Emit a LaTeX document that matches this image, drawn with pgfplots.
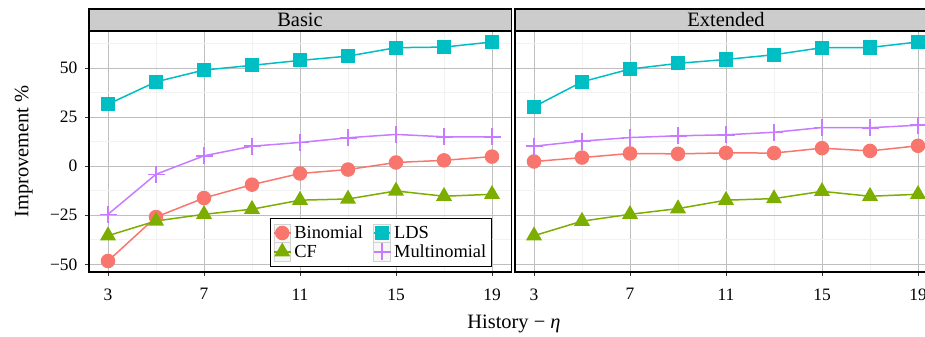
\documentclass[border=0pt]{standalone}
\usepackage{fontspec}
\setmainfont{Liberation Serif}
\usepackage{pgfplots}
\usepackage{pgfplotstable}
\pgfplotsset{compat=1.18}
\definecolor{cB}{HTML}{F8766D}
\definecolor{cC}{HTML}{7CAE00}
\definecolor{cL}{HTML}{00BFC4}
\definecolor{cM}{HTML}{C77CFF}
\definecolor{gmaj}{HTML}{BEBEBE}
\definecolor{gmin}{HTML}{F2F2F2}
\definecolor{stripc}{HTML}{CCCCCC}

\pgfplotstableread{
x B C L M
3 -48.3 -35.4 31.6 -24.5
5 -25.9 -27.9 43.0 -4.1
7 -16.2 -24.5 49.0 5.3
9 -9.4 -21.9 51.4 10.2
11 -3.7 -17.3 53.9 12.1
13 -1.7 -16.7 56.1 14.5
15 1.9 -12.6 60.4 16.2
17 3.0 -15.3 60.7 15.0
19 4.9 -14.3 63.3 15.0
}\basic
\pgfplotstableread{
x B C L M
3 2.4 -35.4 30.3 10.2
5 4.4 -28.0 43.0 12.8
7 6.5 -24.5 49.5 14.6
9 6.3 -21.6 52.4 15.5
11 6.8 -17.3 54.4 16.0
13 6.7 -16.5 56.8 17.3
15 9.2 -12.8 60.4 19.7
17 7.8 -15.3 60.5 19.6
19 10.4 -14.3 63.3 20.9
}\extended

\pgfplotsset{
  panel/.style={
    scale only axis, width=422.4bp, height=241bp,
    xmin=2.2, xmax=19.8, ymin=-53.9, ymax=68.9,
    xtick={3,7,11,15,19}, minor xtick={5,9,13,17},
    ytick={-50,-25,0,25,50}, minor ytick={-37.5,-12.5,12.5,37.5,62.5},
    xticklabels={3,7,11,15,19},
    grid=both,
    major grid style={gmaj, line width=1bp},
    minor grid style={gmin, line width=0.7bp},
    axis line style={black, line width=1.4bp},
    tick align=outside, tick pos=left,
    major tick length=4bp, minor tick length=0pt,
    tick style={black!80, line width=0.8bp},
    /pgf/number format/assume math mode=true,
    tick label style={font=\fontsize{17.5}{18}\selectfont},
    xticklabel style={yshift=-9bp},
    yticklabel style={xshift=-4bp},
    anchor=south west,
  },
  sB/.style={cB, line width=1.5bp, mark=*, mark size=6.5bp, mark options={draw=none, fill=cB}},
  sC/.style={cC, line width=1.5bp, mark=triangle*, mark size=7.8bp, mark options={draw=none, fill=cC}},
  sL/.style={cL, line width=1.5bp, mark=square*, mark size=6.3bp, mark options={draw=none, fill=cL}},
  sM/.style={cM, line width=1.5bp, mark=+, mark size=8.5bp, mark options={line width=1.5bp}},
}

\begin{document}
\begin{tikzpicture}
\begin{axis}[panel, at={(88.8bp,65bp)},
  yticklabels={−50,−25,0,25,50},
  legend style={at={(0.954,0.022)}, anchor=south east, draw=black, line width=1bp,
    font=\fontsize{18.5}{19}\selectfont, inner xsep=3bp, inner ysep=5bp, row sep=0bp,
    /tikz/every odd column/.append style={column sep=1bp},
    /tikz/every even column/.append style={column sep=8bp}},
  legend columns=2, transpose legend, legend cell align=left,
  legend image code/.code={
    \draw[gray!35, fill=gray!6, line width=0.6bp] (0bp,-9.1bp) rectangle (16.7bp,9.1bp);
    \draw[mark repeat=2, mark phase=2] plot coordinates {(0bp,0bp) (8.35bp,0bp) (16.7bp,0bp)};
  },
]
\addplot[sB] table[x=x, y=B] {\basic};
\addplot[sC] table[x=x, y=C] {\basic};
\addplot[sL] table[x=x, y=L] {\basic};
\addplot[sM] table[x=x, y=M] {\basic};
\legend{Binomial, CF, LDS, Multinomial}
\end{axis}
\begin{axis}[panel, at={(514.8bp,65bp)},
  yticklabels={}, ytick style={draw=none}]
\addplot[sB] table[x=x, y=B] {\extended};
\addplot[sC] table[x=x, y=C] {\extended};
\addplot[sL] table[x=x, y=L] {\extended};
\addplot[sM] table[x=x, y=M] {\extended};
\end{axis}
\draw[fill=stripc, line width=1.4bp] (88.8bp,306bp) rectangle (511.2bp,328bp);
\draw[fill=stripc, line width=1.4bp] (514.8bp,306bp) rectangle (937.2bp,328bp);
\node[font=\fontsize{20.5}{21}\selectfont] at (300bp,317bp) {Basic};
\node[font=\fontsize{20.5}{21}\selectfont] at (726bp,317bp) {Extended};
\node[font=\fontsize{20.5}{21}\selectfont, anchor=base] at (514bp,8.7bp) {History − \textit{η}};
\node[font=\fontsize{20.5}{21}\selectfont, anchor=base, rotate=90] at (28.3bp,185.5bp) {Improvement \%};
\pgfresetboundingbox
\useasboundingbox (0bp,0bp) rectangle (925bp,337bp);
\end{tikzpicture}
\end{document}
